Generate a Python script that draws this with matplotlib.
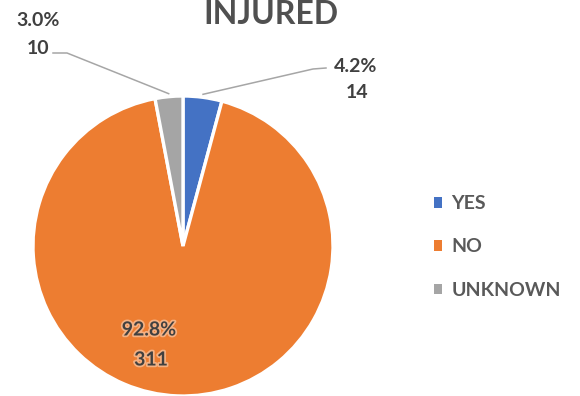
import numpy as np
import matplotlib
matplotlib.use("Agg")
import matplotlib.pyplot as plt
from matplotlib.patches import Patch
import matplotlib.patheffects as pe

plt.rcParams['font.family'] = ['Lato', 'DejaVu Sans']

categories = ["YES", "NO", "UNKNOWN"]
counts = [14, 311, 10]
pct_labels = ["4.2%", "92.8%", "3.0%"]
colors = ["#4472C4", "#ED7D31", "#A5A5A5"]

TXT = "#404040"
W, H = 580, 396
CX, CY, R = 183, 246, 150

fig = plt.figure(figsize=(W / 100, H / 100), dpi=100)
ax = fig.add_axes([(CX - R) / W, (H - CY - R) / H, 2 * R / W, 2 * R / H])

wedges, _ = ax.pie(counts, colors=colors, startangle=90, counterclock=False,
                   radius=1.0, wedgeprops=dict(edgecolor="white", linewidth=2.4))
ax.set_xlim(-1, 1)
ax.set_ylim(-1, 1)
ax.set_aspect("equal")
ax.axis("off")


def px(x, y):
    # pixel position -> pie data coords
    return (x - CX) / R, (CY - y) / R


def mid(w, r=1.0):
    a = np.deg2rad((w.theta1 + w.theta2) / 2)
    return r * np.cos(a), r * np.sin(a)


lab_kw = dict(ha="center", va="center", fontsize=14, fontweight="bold",
              color=TXT, clip_on=False)

# YES label + leader
ax.text(*px(356, 67), pct_labels[0], **lab_kw)
ax.text(*px(357, 92), str(counts[0]), **lab_kw)
p1, p2 = px(326, 68), px(313, 69)
m = mid(wedges[0], 1.02)
ax.plot([p1[0], p2[0], m[0]], [p1[1], p2[1], m[1]], color="#A6A6A6",
        lw=1.1, clip_on=False)

# UNKNOWN label + leader
ax.text(*px(38, 21), pct_labels[2], **lab_kw)
ax.text(*px(38, 48), str(counts[2]), **lab_kw)
p1, p2 = px(53, 53), px(67, 53)
m = mid(wedges[2], 1.02)
ax.plot([p1[0], p2[0], m[0]], [p1[1], p2[1], m[1]], color="#A6A6A6",
        lw=1.1, clip_on=False)

# NO label inside
halo = [pe.withStroke(linewidth=2.5, foreground="#F4B183")]
ax.text(*px(149, 330), pct_labels[1], path_effects=halo, **lab_kw)
ax.text(*px(151, 360), str(counts[1]), path_effects=halo, **lab_kw)

fig.text(271 / W, 1 - 15 / H, "INJURED", ha="center", va="center",
         fontsize=23, fontweight="bold", color="#505050")

handles = [Patch(facecolor=c, edgecolor="none") for c in colors]
fig.legend(handles, categories, loc="center left",
           bbox_to_anchor=(416 / W, 1 - 247 / H), frameon=False,
           prop=dict(size=14, weight="bold"), labelcolor="#595959",
           handlelength=0.46, handleheight=0.46, handletextpad=0.45,
           labelspacing=1.35)

fig.savefig("out.png", dpi=100)
